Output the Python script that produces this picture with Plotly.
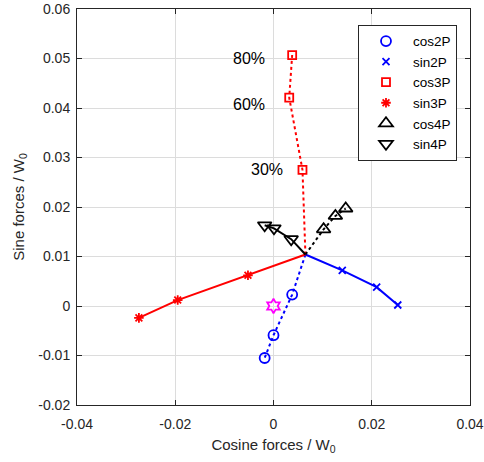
import plotly.graph_objects as go

# Common origin of all vectors
center_x = [0.0065]
center_y = [0.0104]

cos2P_x = [0.0038, 0.0000, -0.0018]
cos2P_y = [0.0023, -0.0059, -0.0105]
sin2P_x = [0.0140, 0.0210, 0.0253]
sin2P_y = [0.0072, 0.0038, 0.0002]
cos3P_x = [0.0059, 0.0032, 0.0038]
cos3P_y = [0.0275, 0.0421, 0.0507]
sin3P_x = [-0.0052, -0.0195, -0.0274]
sin3P_y = [0.0062, 0.0012, -0.0024]
cos4P_x = [0.0102, 0.0126, 0.0147]
cos4P_y = [0.0155, 0.0182, 0.0197]
sin4P_x = [0.0036, 0.0001, -0.0018]
sin4P_y = [0.0135, 0.0157, 0.0163]
ref_x = [0.0]
ref_y = [0.0]

pct_labels = ["30%", "60%", "80%"]
pct_x = [0.0023, -0.0014, -0.0014]
pct_y = [0.0275, 0.0407, 0.0500]

x_ticks = [-0.04, -0.02, 0, 0.02, 0.04]
x_ticktext = ["-0.04", "-0.02", "0", "0.02", "0.04"]
y_ticks = [-0.02, -0.01, 0, 0.01, 0.02, 0.03, 0.04, 0.05, 0.06]
y_ticktext = ["-0.02", "-0.01", "0", "0.01", "0.02", "0.03", "0.04", "0.05", "0.06"]

series = [
    ("cos2P", cos2P_x, cos2P_y, "blue", "dot", "circle-open", 10),
    ("sin2P", sin2P_x, sin2P_y, "blue", "solid", "x-thin-open", 7),
    ("cos3P", cos3P_x, cos3P_y, "red", "dot", "square-open", 8),
    ("sin3P", sin3P_x, sin3P_y, "red", "solid", "asterisk-open", 8),
    ("cos4P", cos4P_x, cos4P_y, "black", "dot", "triangle-up-open", 12),
    ("sin4P", sin4P_x, sin4P_y, "black", "solid", "triangle-down-open", 12),
]

fig = go.Figure()

for name, xs, ys, col, dash, sym, sz in series:
    fig.add_trace(go.Scatter(
        x=center_x + xs, y=center_y + ys, mode="lines",
        line=dict(color=col, width=2, dash=dash), showlegend=False, hoverinfo="skip"))

for name, xs, ys, col, dash, sym, sz in series:
    fig.add_trace(go.Scatter(
        x=xs, y=ys, mode="markers", name=name,
        marker=dict(symbol=sym, size=sz, color=col, line=dict(color=col, width=1.8))))

fig.add_trace(go.Scatter(
    x=ref_x, y=ref_y, mode="markers", showlegend=False,
    marker=dict(symbol="hexagram-open", size=11, color="magenta",
                line=dict(color="magenta", width=1.8))))

for t, xv, yv in zip(pct_labels, pct_x, pct_y):
    fig.add_annotation(x=xv, y=yv, text=t, showarrow=False, xanchor="right",
                       yanchor="middle", font=dict(size=16, color="black"))

axis_common = dict(
    showgrid=True, gridcolor="#dcdcdc", gridwidth=1, zeroline=False,
    showline=True, linecolor="#262626", linewidth=1, mirror="ticks",
    ticks="inside", ticklen=5, tickcolor="#262626", automargin=False,
    tickfont=dict(size=14, color="#262626"),
)

fig.update_xaxes(range=[-0.04, 0.04], tickvals=x_ticks, ticktext=x_ticktext,
                 ticklabelstandoff=6,
                 title=dict(text="Cosine forces / W<sub>0</sub>", font=dict(size=15, color="#262626"), standoff=8),
                 **axis_common)
fig.update_yaxes(range=[-0.02, 0.06], tickvals=y_ticks, ticktext=y_ticktext,
                 ticklabelstandoff=3,
                 title=dict(text="Sine forces / W<sub>0</sub>", font=dict(size=15, color="#262626"), standoff=10),
                 **axis_common)

fig.update_layout(
    width=484, height=462,
    margin=dict(l=77, r=14, t=9, b=57, autoexpand=False),
    plot_bgcolor="white", paper_bgcolor="white",
    font=dict(family="Liberation Sans, Arial, sans-serif", size=14, color="#262626"),
    legend=dict(x=0.715, y=0.96, xanchor="left", yanchor="top",
                bgcolor="white", bordercolor="#262626", borderwidth=1,
                font=dict(size=13.5, color="black"), tracegroupgap=0, itemwidth=44),
)

fig.write_html("out.html")
